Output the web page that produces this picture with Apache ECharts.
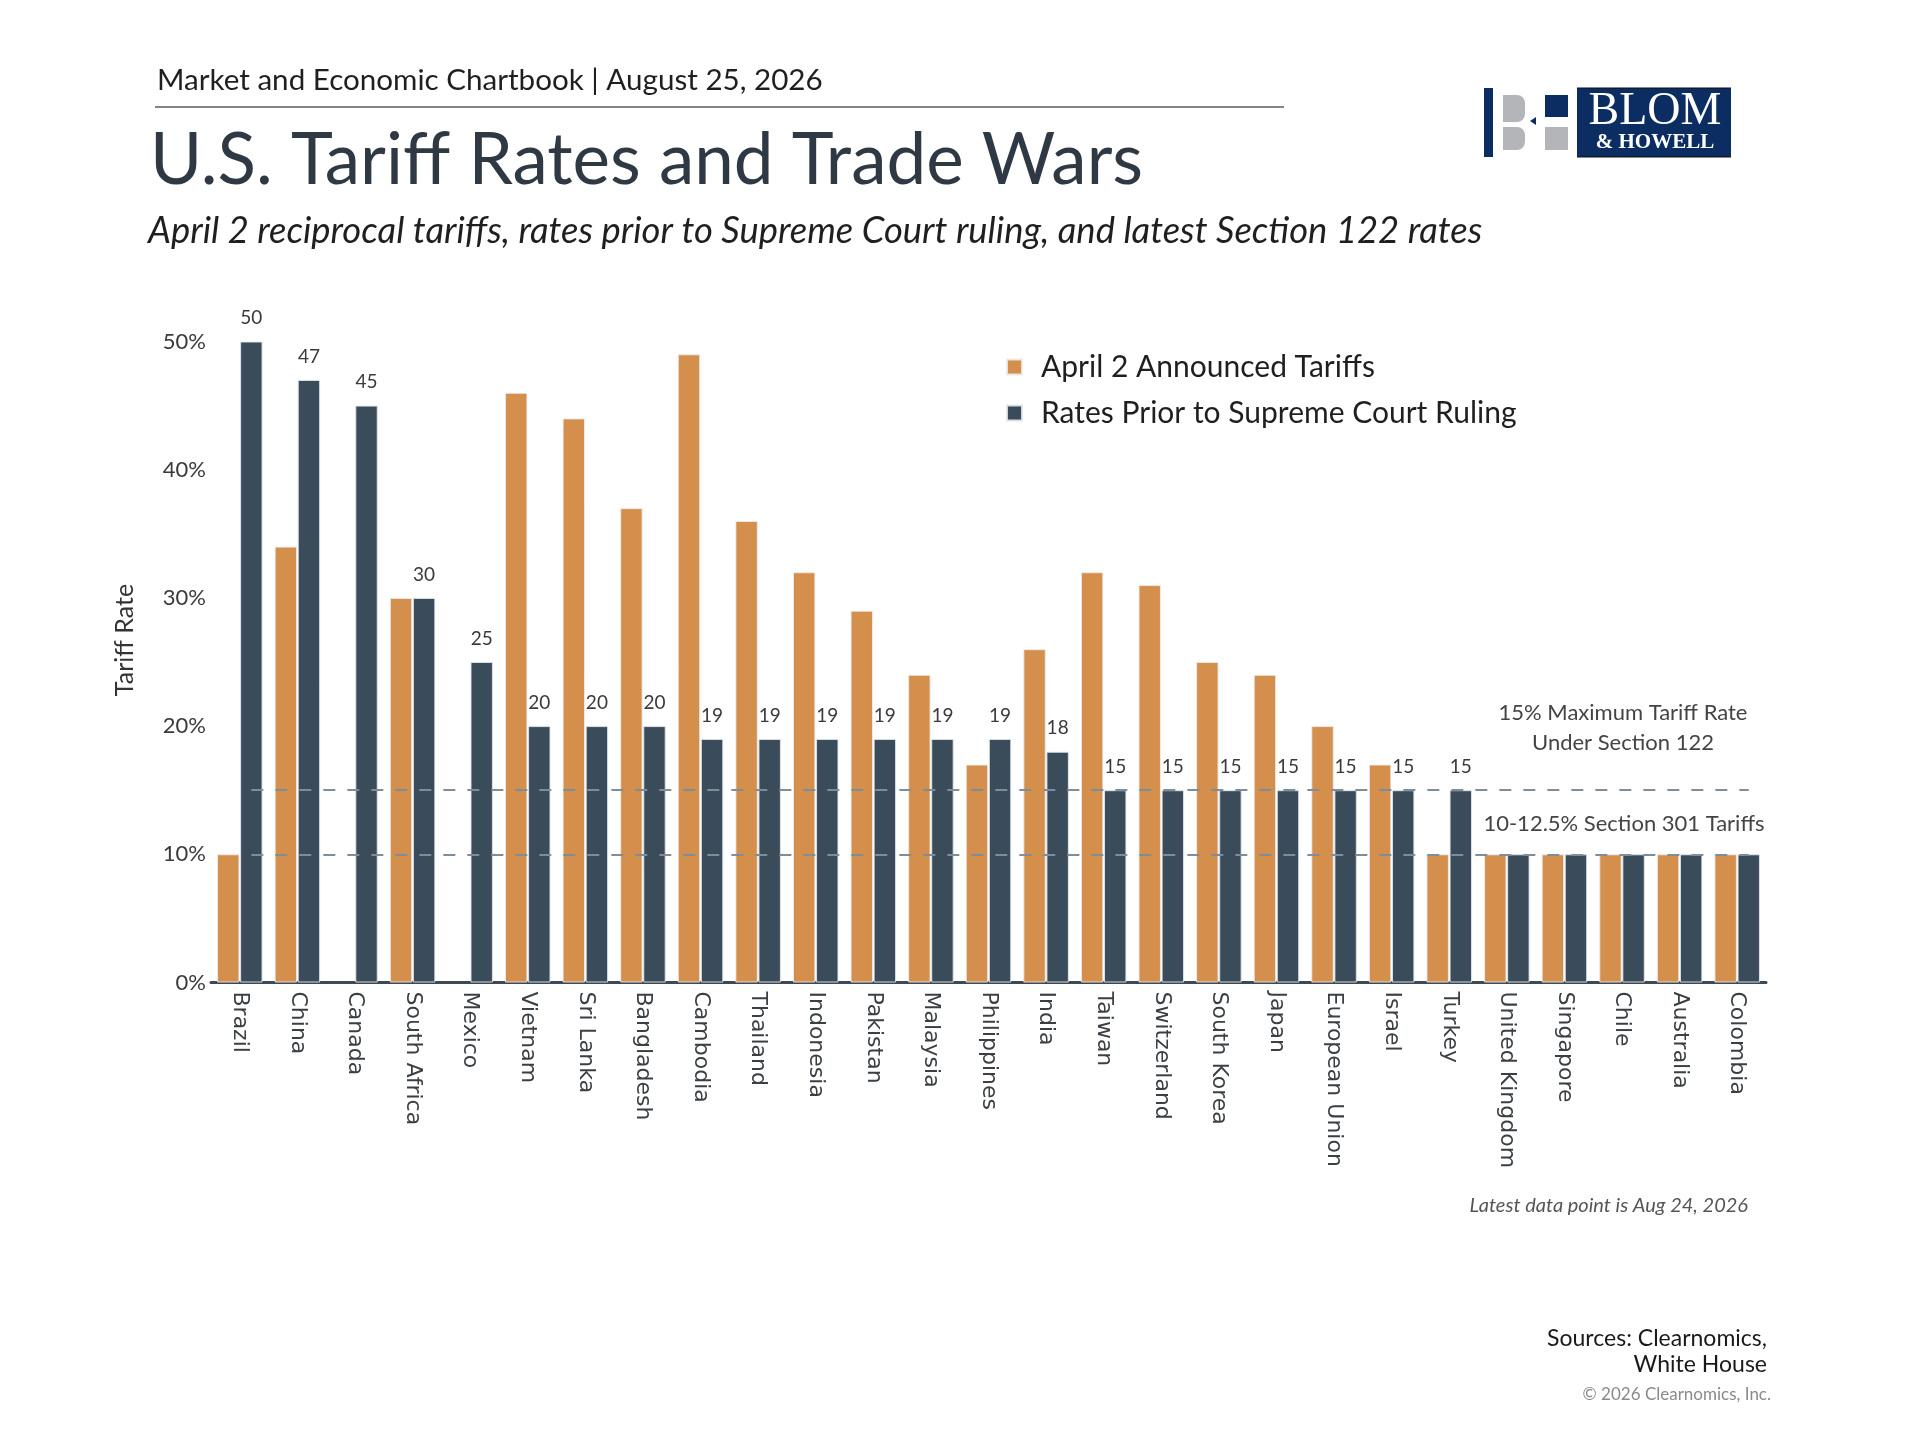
<!DOCTYPE html>
<html>
<head>
<meta charset="utf-8">
<script src="https://cdn.jsdelivr.net/npm/echarts@6/dist/echarts.min.js"></script>
<style>
html,body{margin:0;padding:0;background:#fff;}
#chart{width:1920px;height:1440px;}
</style>
</head>
<body>
<div id="chart"></div>
<script>
const categories = ['Brazil','China','Canada','South Africa','Mexico','Vietnam','Sri Lanka','Bangladesh','Cambodia','Thailand','Indonesia','Pakistan','Malaysia','Philippines','India','Taiwan','Switzerland','South Korea','Japan','European Union','Israel','Turkey','United Kingdom','Singapore','Chile','Australia','Colombia'];
const april2Tariffs = [10,34,0,30,0,46,44,37,49,36,32,29,24,17,26,32,31,25,24,20,17,10,10,10,10,10,10];
const priorRates = [50,47,45,30,25,20,20,20,19,19,19,19,19,19,18,15,15,15,15,15,15,15,10,10,10,10,10];
const yTicks = [0,10,20,30,40,50];
const section122Max = 15;
const section301Rate = 10;

const ORANGE = '#D48F4D';
const NAVY = '#3A4B5A';
const SANS = 'Lato, "Noto Sans", sans-serif';

const chart = echarts.init(document.getElementById('chart'), null, {renderer:'canvas'});

const option = {
  backgroundColor: '#ffffff',
  animation: false,
  grid: { left: 211, right: 154, top: 341.5, bottom: 457.5, containLabel: false },
  legend: {
    orient: 'vertical',
    left: 1001,
    top: 347,
    icon: 'rect',
    itemWidth: 15,
    itemHeight: 15,
    itemGap: 16,
    textStyle: { fontFamily: SANS, fontSize: 30, color: '#1f1f1f', padding: [0,0,0,14] },
    data: ['April 2 Announced Tariffs', 'Rates Prior to Supreme Court Ruling']
  },
  xAxis: {
    type: 'category',
    data: categories,
    axisLine: { show: true, lineStyle: { color: '#3d4955', width: 3 } },
    axisTick: { show: false },
    axisLabel: {
      rotate: -90,
      interval: 0,
      margin: 9,
      fontFamily: '"DejaVu Sans", Verdana, sans-serif',
      fontSize: 22,
      color: '#3a3f44'
    },
    splitLine: { show: false }
  },
  yAxis: {
    type: 'value',
    min: 0,
    max: 50,
    interval: 10,
    axisLine: { show: false },
    axisTick: { show: false },
    splitLine: { show: false },
    axisLabel: {
      margin: 5,
      fontFamily: SANS,
      fontSize: 22,
      color: '#3a3a3a',
      formatter: function (v) { return yTicks.indexOf(v) >= 0 ? v + '%' : ''; }
    }
  },
  series: [
    {
      name: 'April 2 Announced Tariffs',
      type: 'bar',
      data: april2Tariffs.map(function (v) { return v === 0 ? null : v; }),
      barGap: '3%',
      barCategoryGap: '21%',
      itemStyle: { color: ORANGE, borderColor: 'rgba(235,235,235,0.9)', borderWidth: 1 }
    },
    {
      name: 'Rates Prior to Supreme Court Ruling',
      type: 'bar',
      data: priorRates,
      barGap: '3%',
      barCategoryGap: '21%',
      itemStyle: { color: NAVY, borderColor: 'rgba(225,230,235,0.9)', borderWidth: 1 },
      label: {
        show: true,
        position: 'top',
        distance: 14,
        fontFamily: SANS,
        fontSize: 19,
        color: '#3a3a3a',
        formatter: function (p) { return p.value > section301Rate ? String(p.value) : ''; }
      },
      markLine: {
        silent: true,
        symbol: ['none','none'],
        label: { show: false },
        z: 10,
        lineStyle: { color: '#7d8d9b', width: 2, type: [12, 12] },
        data: [
          [ { coord: [categories[0], section122Max] }, { coord: [categories[categories.length-1], section122Max] } ],
          [ { coord: [categories[0], section301Rate] }, { coord: [categories[categories.length-1], section301Rate] } ]
        ]
      }
    }
  ],
  graphic: [
    { type:'text', left: 157, top: 65, style:{ text:'Market and Economic Chartbook | August 25, 2026', font:'29.6px ' + SANS, fill:'#1f1f1f' } },
    { type:'line', shape:{ x1:155, y1:107, x2:1284, y2:107 }, style:{ stroke:'#555b62', lineWidth:1.5 } },
    { type:'text', left: 150, top: 126, style:{ text:'U.S. Tariff Rates and Trade Wars', font:'71px ' + SANS, fill:'#2e3943' } },
    { type:'text', left: 148, top: 213, style:{ text:'April 2 reciprocal tariffs, rates prior to Supreme Court ruling, and latest Section 122 rates', font:'italic 36.4px ' + SANS, fill:'#1f1f1f' } },

    { type:'text', x: 125, y: 640, rotation: Math.PI / 2, style:{ text:'Tariff Rate', font:'25px ' + SANS, fill:'#333', align:'center', verticalAlign:'middle' } },

    { type:'text', x: 1623, y: 713, style:{ text:'15% Maximum Tariff Rate', font:'22px ' + SANS, fill:'#444', align:'center', verticalAlign:'middle' } },
    { type:'text', x: 1623, y: 743, style:{ text:'Under Section 122', font:'22px ' + SANS, fill:'#444', align:'center', verticalAlign:'middle' } },
    { type:'text', x: 1624, y: 824, style:{ text:'10-12.5% Section 301 Tariffs', font:'22px ' + SANS, fill:'#444', align:'center', verticalAlign:'middle' } },

    { type:'text', x: 1748, y: 1206, style:{ text:'Latest data point is Aug 24, 2026', font:'italic 20px ' + SANS, fill:'#555', align:'right', verticalAlign:'middle' } },
    { type:'text', x: 1767, y: 1339, style:{ text:'Sources: Clearnomics,', font:'23px ' + SANS, fill:'#1a1a1a', align:'right', verticalAlign:'middle' } },
    { type:'text', x: 1767, y: 1365, style:{ text:'White House', font:'23px ' + SANS, fill:'#1a1a1a', align:'right', verticalAlign:'middle' } },
    { type:'text', x: 1771, y: 1395, style:{ text:'\u00A9 2026 Clearnomics, Inc.', font:'17px ' + SANS, fill:'#8a8a8a', align:'right', verticalAlign:'middle' } },

    { type:'rect', shape:{ x:1484, y:88, width:9, height:69 }, style:{ fill:'#0b2d62' } },
    { type:'rect', shape:{ x:1503, y:95, width:22, height:27, r:[0,8,8,0] }, style:{ fill:'#b3b5b8' } },
    { type:'rect', shape:{ x:1503, y:127, width:22, height:23, r:[0,8,8,0] }, style:{ fill:'#b3b5b8' } },
    { type:'polygon', shape:{ points:[[1530,121],[1536,117],[1536,125]] }, style:{ fill:'#0b2d62' } },
    { type:'rect', shape:{ x:1545, y:95, width:23, height:22 }, style:{ fill:'#0b2d62' } },
    { type:'rect', shape:{ x:1545, y:127, width:23, height:23 }, style:{ fill:'#b3b5b8' } },
    { type:'rect', shape:{ x:1577, y:88, width:154, height:69 }, style:{ fill:'#0b2d62' } },
    { type:'line', shape:{ x1:1577, y1:88, x2:1731, y2:88 }, style:{ stroke:'#111', lineWidth:1 } },
    { type:'line', shape:{ x1:1577, y1:157, x2:1731, y2:157 }, style:{ stroke:'#111', lineWidth:1 } },
    { type:'text', x: 1655, y: 112, style:{ text:'BLOM', font:'46px "Liberation Serif", serif', fill:'#ffffff', align:'center', verticalAlign:'middle' } },
    { type:'text', x: 1655, y: 143, style:{ text:'& HOWELL', font:'bold 21px "Liberation Serif", serif', fill:'#ffffff', align:'center', verticalAlign:'middle' } }
  ]
};
chart.setOption(option);
</script>
</body>
</html>
